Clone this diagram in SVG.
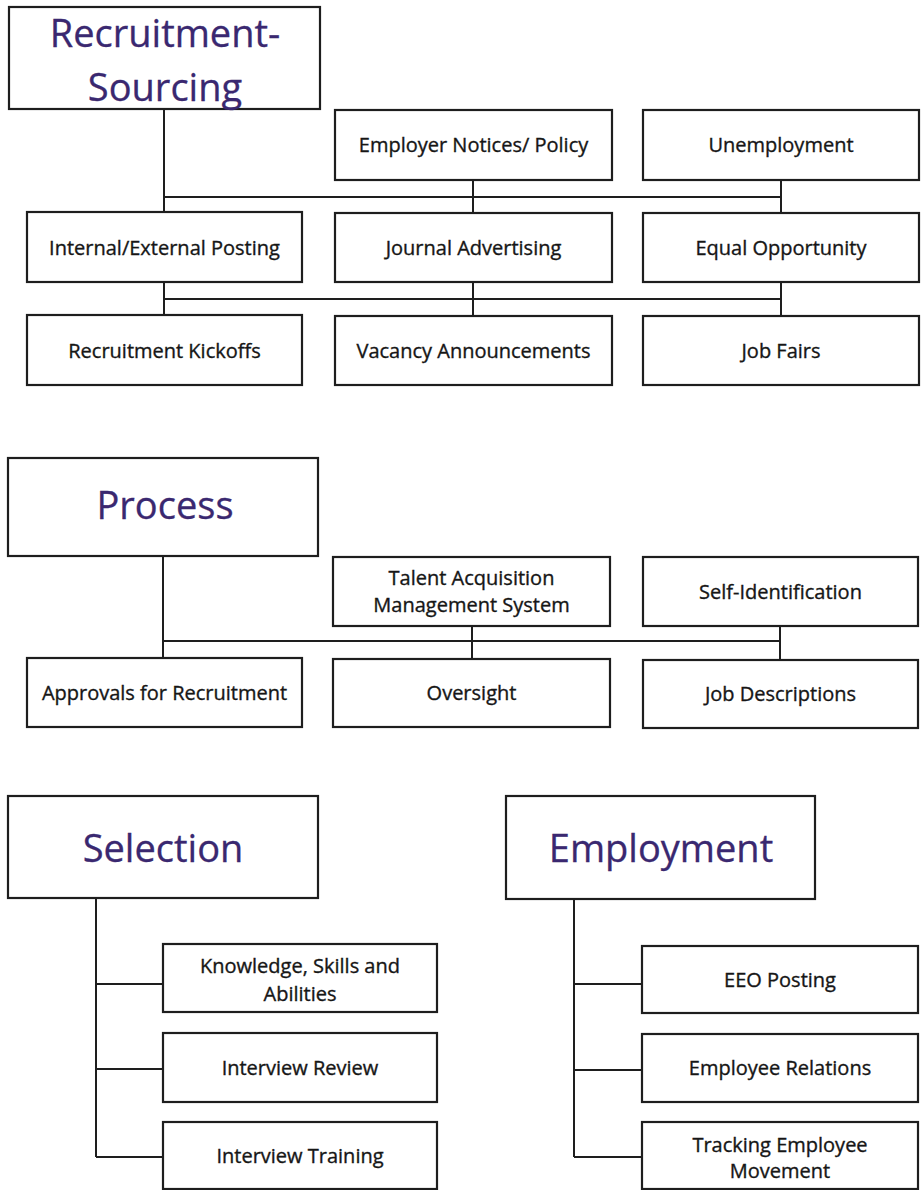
<svg xmlns="http://www.w3.org/2000/svg" width="923" height="1190" viewBox="0 0 923 1190">
<style>
.bg{fill:#ffffff}
.box{fill:#ffffff;stroke:#1e1e1e;stroke-width:2.2}
.title{font-family:"Open Sans","Liberation Sans",sans-serif;font-size:38px;fill:#3a2870;stroke:#3a2870;stroke-width:0.3;text-anchor:middle}
.lbl{font-family:"Open Sans","Liberation Sans",sans-serif;font-size:20px;fill:#161616;stroke:#161616;stroke-width:0.35;text-anchor:middle}
.conn line{stroke:#1e1e1e;stroke-width:2;fill:none}
</style>
<rect class="bg" x="0" y="0" width="923" height="1190"/>

<g id="connectors" class="conn">
  <!-- Recruitment-Sourcing -->
  <line x1="164" y1="109" x2="164" y2="212"/>
  <line x1="164" y1="197" x2="781" y2="197"/>
  <line x1="473" y1="180" x2="473" y2="213"/>
  <line x1="781" y1="180" x2="781" y2="213"/>
  <line x1="164" y1="282" x2="164" y2="315"/>
  <line x1="164" y1="299" x2="781" y2="299"/>
  <line x1="473" y1="282" x2="473" y2="316"/>
  <line x1="781" y1="282" x2="781" y2="316"/>
  <!-- Process -->
  <line x1="163" y1="556" x2="163" y2="658"/>
  <line x1="163" y1="641" x2="780" y2="641"/>
  <line x1="472" y1="626" x2="472" y2="659"/>
  <line x1="780" y1="626" x2="780" y2="660"/>
  <!-- Selection -->
  <line x1="96" y1="898" x2="96" y2="1157"/>
  <line x1="96" y1="984" x2="163" y2="984"/>
  <line x1="96" y1="1069" x2="163" y2="1069"/>
  <line x1="96" y1="1157" x2="163" y2="1157"/>
  <!-- Employment -->
  <line x1="574" y1="899" x2="574" y2="1157"/>
  <line x1="574" y1="984" x2="642" y2="984"/>
  <line x1="574" y1="1070" x2="642" y2="1070"/>
  <line x1="574" y1="1157" x2="642" y2="1157"/>
</g>

<g id="recruitment-sourcing">
  <rect class="box" x="9" y="7" width="311" height="102"/>
  <text class="title" x="165" y="47">Recruitment-</text>
  <text class="title" x="165" y="101">Sourcing</text>
</g>
<g id="employer-notices">
  <rect class="box" x="335" y="110" width="277" height="70"/>
  <text class="lbl" x="473.5" y="152">Employer Notices/ Policy</text>
</g>
<g id="unemployment">
  <rect class="box" x="643" y="110" width="276" height="70"/>
  <text class="lbl" x="781" y="152">Unemployment</text>
</g>
<g id="internal-external-posting">
  <rect class="box" x="27" y="212" width="275" height="70"/>
  <text class="lbl" x="164.5" y="255">Internal/External Posting</text>
</g>
<g id="journal-advertising">
  <rect class="box" x="335" y="213" width="277" height="69"/>
  <text class="lbl" x="473.5" y="255">Journal Advertising</text>
</g>
<g id="equal-opportunity">
  <rect class="box" x="643" y="213" width="276" height="69"/>
  <text class="lbl" x="781" y="255">Equal Opportunity</text>
</g>
<g id="recruitment-kickoffs">
  <rect class="box" x="27" y="315" width="275" height="70"/>
  <text class="lbl" x="164.5" y="358">Recruitment Kickoffs</text>
</g>
<g id="vacancy-announcements">
  <rect class="box" x="335" y="316" width="277" height="69"/>
  <text class="lbl" x="473.5" y="358">Vacancy Announcements</text>
</g>
<g id="job-fairs">
  <rect class="box" x="643" y="316" width="276" height="69"/>
  <text class="lbl" x="781" y="358">Job Fairs</text>
</g>

<g id="process">
  <rect class="box" x="8" y="458" width="310" height="98"/>
  <text class="title" x="165" y="519">Process</text>
</g>
<g id="talent-acquisition">
  <rect class="box" x="333" y="557" width="277" height="69"/>
  <text class="lbl" x="471.5" y="585">Talent Acquisition</text>
  <text class="lbl" x="471.5" y="612">Management System</text>
</g>
<g id="self-identification">
  <rect class="box" x="643" y="557" width="275" height="69"/>
  <text class="lbl" x="780.5" y="599">Self-Identification</text>
</g>
<g id="approvals-for-recruitment">
  <rect class="box" x="27" y="658" width="275" height="69"/>
  <text class="lbl" x="164.5" y="700">Approvals for Recruitment</text>
</g>
<g id="oversight">
  <rect class="box" x="333" y="659" width="277" height="68"/>
  <text class="lbl" x="471.5" y="700">Oversight</text>
</g>
<g id="job-descriptions">
  <rect class="box" x="643" y="660" width="275" height="68"/>
  <text class="lbl" x="780.5" y="701">Job Descriptions</text>
</g>

<g id="selection">
  <rect class="box" x="8" y="796" width="310" height="102"/>
  <text class="title" x="163" y="862">Selection</text>
</g>
<g id="ksa">
  <rect class="box" x="163" y="944" width="274" height="68"/>
  <text class="lbl" x="300" y="973">Knowledge, Skills and</text>
  <text class="lbl" x="300" y="1001">Abilities</text>
</g>
<g id="interview-review">
  <rect class="box" x="163" y="1033" width="274" height="69"/>
  <text class="lbl" x="300" y="1075">Interview Review</text>
</g>
<g id="interview-training">
  <rect class="box" x="163" y="1122" width="274" height="67"/>
  <text class="lbl" x="300" y="1163">Interview Training</text>
</g>

<g id="employment">
  <rect class="box" x="506" y="796" width="309" height="103"/>
  <text class="title" x="661" y="862">Employment</text>
</g>
<g id="eeo-posting">
  <rect class="box" x="642" y="946" width="276" height="67"/>
  <text class="lbl" x="780" y="987">EEO Posting</text>
</g>
<g id="employee-relations">
  <rect class="box" x="642" y="1034" width="276" height="68"/>
  <text class="lbl" x="780" y="1075">Employee Relations</text>
</g>
<g id="tracking-employee-movement">
  <rect class="box" x="642" y="1122" width="276" height="67"/>
  <text class="lbl" x="780" y="1152">Tracking Employee</text>
  <text class="lbl" x="780" y="1178">Movement</text>
</g>
</svg>
